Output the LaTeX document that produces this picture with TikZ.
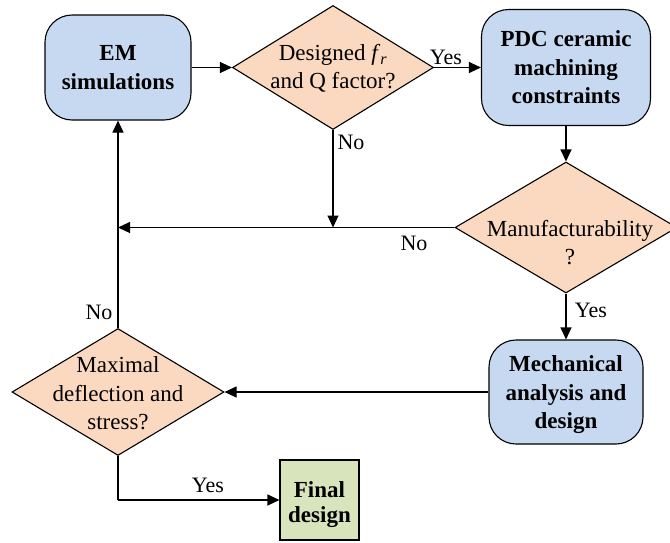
\documentclass[tikz,border=0pt]{standalone}
\usepackage{fontspec}
\setmainfont{Liberation Serif}
\usetikzlibrary{shapes.geometric,arrows.meta}
\definecolor{boxblue}{HTML}{C6D9F1}
\definecolor{decpeach}{HTML}{FBD9C0}
\definecolor{endgreen}{HTML}{D8E4BC}
\begin{document}
\begin{tikzpicture}[x=1pt,y=-1pt,
  every node/.style={inner sep=0pt, font=\fontsize{23}{28.5}\selectfont},
  procbox/.style={rectangle, draw=black, line width=1.1pt, fill=boxblue,
    rounded corners=27pt, align=center, font=\fontsize{23}{28.5}\selectfont\bfseries},
  decision/.style={diamond, draw=black, line width=1.1pt, fill=decpeach},
  endbox/.style={rectangle, draw=black, line width=1.1pt, fill=endgreen,
    align=center, font=\fontsize{23}{25}\selectfont\bfseries},
  dtext/.style={align=center},
  flow/.style={line width=1.1pt, -{Triangle[length=12pt,width=11pt]}},
  link/.style={line width=1.1pt},
  tag/.style={font=\fontsize{22}{26}\selectfont}
]
\useasboundingbox (0,0) rectangle (670,542);

% process boxes (a strut on the first line lowers the text a little)
\node[procbox, minimum width=146pt, minimum height=105pt] (em) at (118,67.5)
  {EM\\simulations};
\node[procbox, minimum width=169pt, minimum height=116pt] (pdc) at (566,67.5)
  {PDC ceramic\\machining\\constraints};
\node[procbox, minimum width=154pt, minimum height=104pt] (mech) at (566,392)
  {\rule{0pt}{22pt}Mechanical\\analysis and\\design};
\node[endbox, minimum width=79pt, minimum height=80pt] (fin) at (319.5,500)
  {\rule{0pt}{26pt}Final\\design};

% decisions
\node[decision, minimum width=201pt, minimum height=124pt] (d1) at (333,67.5) {};
\node[dtext] (d1t) at (333,68.5)
  {Designed \textit{f}\textsubscript{\textit{r}}\\and Q factor?};
\node[decision, minimum width=222pt, minimum height=131pt] (d2) at (566,227.5) {};
\node[dtext] (d2t) at (570,242.5) {Manufacturability\\?};
\node[decision, minimum width=212pt, minimum height=127pt] (d3) at (118,392) {};
\node[dtext] (d3t) at (118,393.5) {Maximal\\deflection and\\stress?};

% junctions
\coordinate (j1) at (em.south |- d2.west);
\coordinate (j2) at (d1.south |- d2.west);
\coordinate (j3) at (d3.south |- fin.west);

% connectors
\draw[flow] (em.east) -- (d1.west);
\draw[flow] (d1.east) -- (pdc.west);
\draw[flow] (pdc.south) -- (d2.north);
\draw[flow] (d1.south) -- (j2);
\draw[flow] (d2.west) -- (j1);
\draw[flow] (d3.north) -- (em.south);
\draw[flow] (d2.south) -- (mech.north);
\draw[flow] (mech.west) -- (d3.east);
\draw[link] (d3.south) -- (j3);
\draw[flow] (j3) -- (fin.west);

% branch labels
\node[tag] (l1) at (446,57) {Yes};
\node[tag] (l2) at (351,142) {No};
\node[tag] (l3) at (414,243) {No};
\node[tag] (l4) at (591,310) {Yes};
\node[tag] (l5) at (99,312) {No};
\node[tag] (l6) at (208,485) {Yes};
\end{tikzpicture}
\end{document}
